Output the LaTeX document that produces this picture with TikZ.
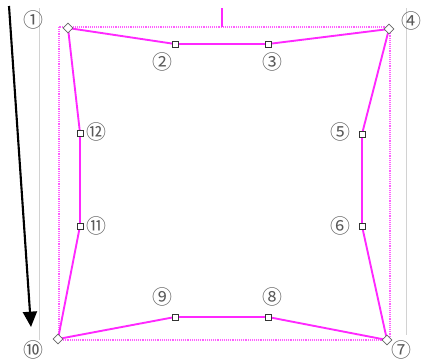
\documentclass[tikz,border=0pt]{standalone}
\usepackage{fontspec}
\newfontfamily\cjk{Noto Sans CJK JP}
\usetikzlibrary{shapes.geometric,arrows.meta}
\definecolor{pink}{RGB}{255,40,255}
\tikzset{
  corner/.style={diamond, draw=gray!80!black, fill=white, line width=0.5pt, inner sep=0pt, minimum size=0.3cm},
  handle/.style={rectangle, draw=gray!40!black, fill=white, line width=0.5pt, inner sep=0pt, minimum size=0.19cm},
  num/.style={text=gray!70!black, font=\cjk\fontsize{17}{17}\selectfont, inner sep=0pt},
  edge/.style={draw=pink, line width=1.6pt},
}
\begin{document}
\begin{tikzpicture}[x=0.03cm, y=-0.03cm]
  \useasboundingbox (0,0) rectangle (421,360);
  % guides
  \draw[gray!35, line width=0.7pt] (39,8) -- (39,340);
  \draw[gray!35, line width=0.7pt] (406,8) -- (406,335);
  \draw[pink!75, line width=1.8pt, dash pattern=on 0.8pt off 0.8pt] (59,27) rectangle (390,340);
  \draw[pink, line width=1.5pt] (222,8) -- (222,27);
  % points
  \coordinate (c1)  at (68,28);
  \coordinate (c4)  at (389,29);
  \coordinate (c7)  at (387,340);
  \coordinate (c10) at (58,339);
  \coordinate (p2)  at (175,44);
  \coordinate (p3)  at (268,44);
  \coordinate (p5)  at (362,134);
  \coordinate (p6)  at (362,226);
  \coordinate (p8)  at (268,317);
  \coordinate (p9)  at (175,317);
  \coordinate (p11) at (80,226);
  \coordinate (p12) at (80,133);
  % outline
  \path[edge] (c1) -- (p2) -- (p3) -- (c4) -- (p5) -- (p6) -- (c7)
              -- (p8) -- (p9) -- (c10) -- (p11) -- (p12) -- cycle;
  \foreach \n in {c1,c4,c7,c10} \node[corner] (m\n) at (\n) {};
  \foreach \n in {p2,p3,p5,p6,p8,p9,p11,p12} \node[handle] (m\n) at (\n) {};
  % labels
  \node[num] (n1)  at (33,20)   {①};
  \node[num] (n2)  at (162,62)  {②};
  \node[num] (n3)  at (272,62)  {③};
  \node[num] (n4)  at (411,21)  {④};
  \node[num] (n5)  at (340,132) {⑤};
  \node[num] (n6)  at (340,226) {⑥};
  \node[num] (n7)  at (401,350) {⑦};
  \node[num] (n8)  at (272,297) {⑧};
  \node[num] (n9)  at (162,297) {⑨};
  \node[num] (n10) at (33,350)  {⑩};
  \node[num] (n11) at (96,226)  {⑪};
  \node[num] (n12) at (96,132)  {⑫};
  % direction
  \coordinate (a0) at (9,6);
  \coordinate (a1) at (31,327);
  \draw[line width=1.8pt, -{Triangle[length=0.46cm, width=0.42cm]}] (a0) -- (a1);
\end{tikzpicture}
\end{document}
